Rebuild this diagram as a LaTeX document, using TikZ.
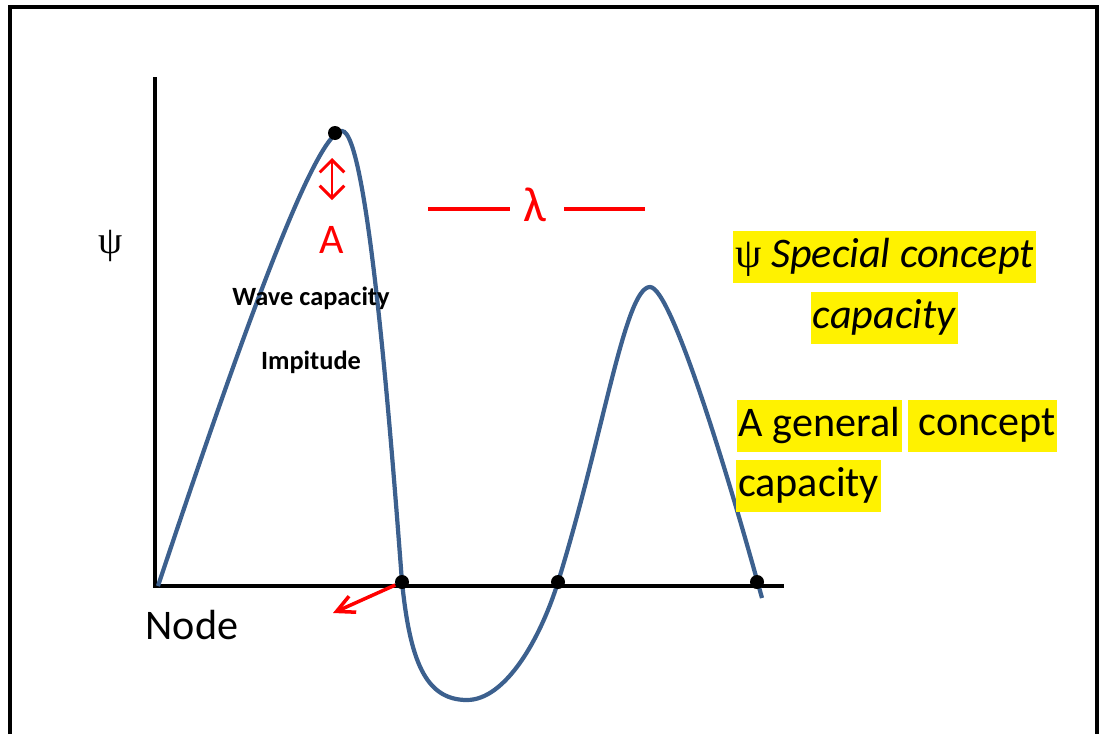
\documentclass[tikz,border=0pt]{standalone}
\usepackage{fontspec}
\setmainfont{Carlito}
\newfontfamily\psifont{Liberation Serif}
\usetikzlibrary{arrows.meta}
\definecolor{waveblue}{RGB}{60,96,142}

\begin{document}
\begin{tikzpicture}[x=0.02cm, y=-0.02cm,
    frame/.style={line width=2.3pt, black},
    axis/.style={line width=2.2pt, black},
    wave/.style={line width=2.4pt, waveblue},
    dot/.style={circle, fill=black, minimum size=0.28cm, inner sep=0pt},
    redarr/.style={red, line width=2pt, -{Straight Barb[length=10pt, width=10pt]}},
    ampl/.style={red, line width=1.7pt, {Straight Barb[length=7pt, width=14pt]}-{Straight Barb[length=7pt, width=14pt]}},
    lamline/.style={red, line width=1.8pt},
    big/.style={font=\fontsize{24}{29}\selectfont},
    small/.style={font=\fontsize{15}{18}\selectfont\bfseries},
    hl/.style={big, fill=yellow, inner xsep=1pt, inner ysep=0pt, minimum height=1.04cm},
  ]
    \useasboundingbox (0,0) rectangle (1102,734);

    % Frame
    \draw[frame] (10,734) -- (10,7) -- (1097,7) -- (1097,734);

    % Axes
    \coordinate (ytop) at (155,77);
    \coordinate (O)    at (155,586);
    \coordinate (xend) at (784,586);
    \draw[axis] (ytop) -- (O) -- (xend);

    % Wave
    \draw[wave] (158,586) .. controls (240,340) and (315,131) .. (342,131)
      .. controls (368,131) and (392,450) .. (402,582)
      .. controls (410,660) and (425,700) .. (467,700)
      .. controls (505,700) and (540,640) .. (558,582)
      .. controls (603,437) and (625,287) .. (650,287)
      .. controls (672,287) and (732,490) .. (757,580)
      -- (762,598);

    % Dots
    \node[dot] (crest) at (335,133) {};
    \node[dot] (z1)    at (402,582) {};
    \node[dot] (z2)    at (558,582) {};
    \node[dot] (z3)    at (757,582) {};

    % Amplitude
    \coordinate (atop) at (332,158);
    \coordinate (abot) at (332,200);
    \draw[ampl] (atop) -- (abot);
    \node[big, red] (A) at (332,240) {A};
    \node[small] (wcap) at (311,298) {Wave capacity};
    \node[small] (imp)  at (311,362) {Impitude};

    % Wavelength
    \node[red, font=\fontsize{28}{32}\selectfont] (lam) at (535,205) {λ};
    \coordinate (l1) at (428,209);
    \coordinate (l2) at (510,209);
    \coordinate (l3) at (564,209);
    \coordinate (l4) at (645,209);
    \draw[lamline] (l1) -- (l2);
    \draw[lamline] (l3) -- (l4);

    % Axis labels
    \node[font=\psifont\fontsize{22}{26}\selectfont] (psi) at (111,246) {ψ};
    \node[big] (nodelbl) at (192,625) {Node};
    \coordinate (ntip) at (333,613);
    \draw[redarr] (z1) -- (ntip);

    % Highlighted notes
    \node[hl] (sp1) at (884.5,257)   {\raisebox{-3pt}{{\psifont ψ} \textit{Special concept}}};
    \node[hl] (sp2) at (884.5,317.5) {\raisebox{-3pt}{\textit{capacity}}};
    \node[hl] (gn1) at (819.5,425.5) {\raisebox{-3pt}{A general}};
    \node[hl] (gn2) at (982.5,425.5) {\raisebox{-3pt}{\ concept}};
    \node[hl] (gn3) at (808.5,485.5) {\raisebox{-3pt}{capacity}};
\end{tikzpicture}
\end{document}
